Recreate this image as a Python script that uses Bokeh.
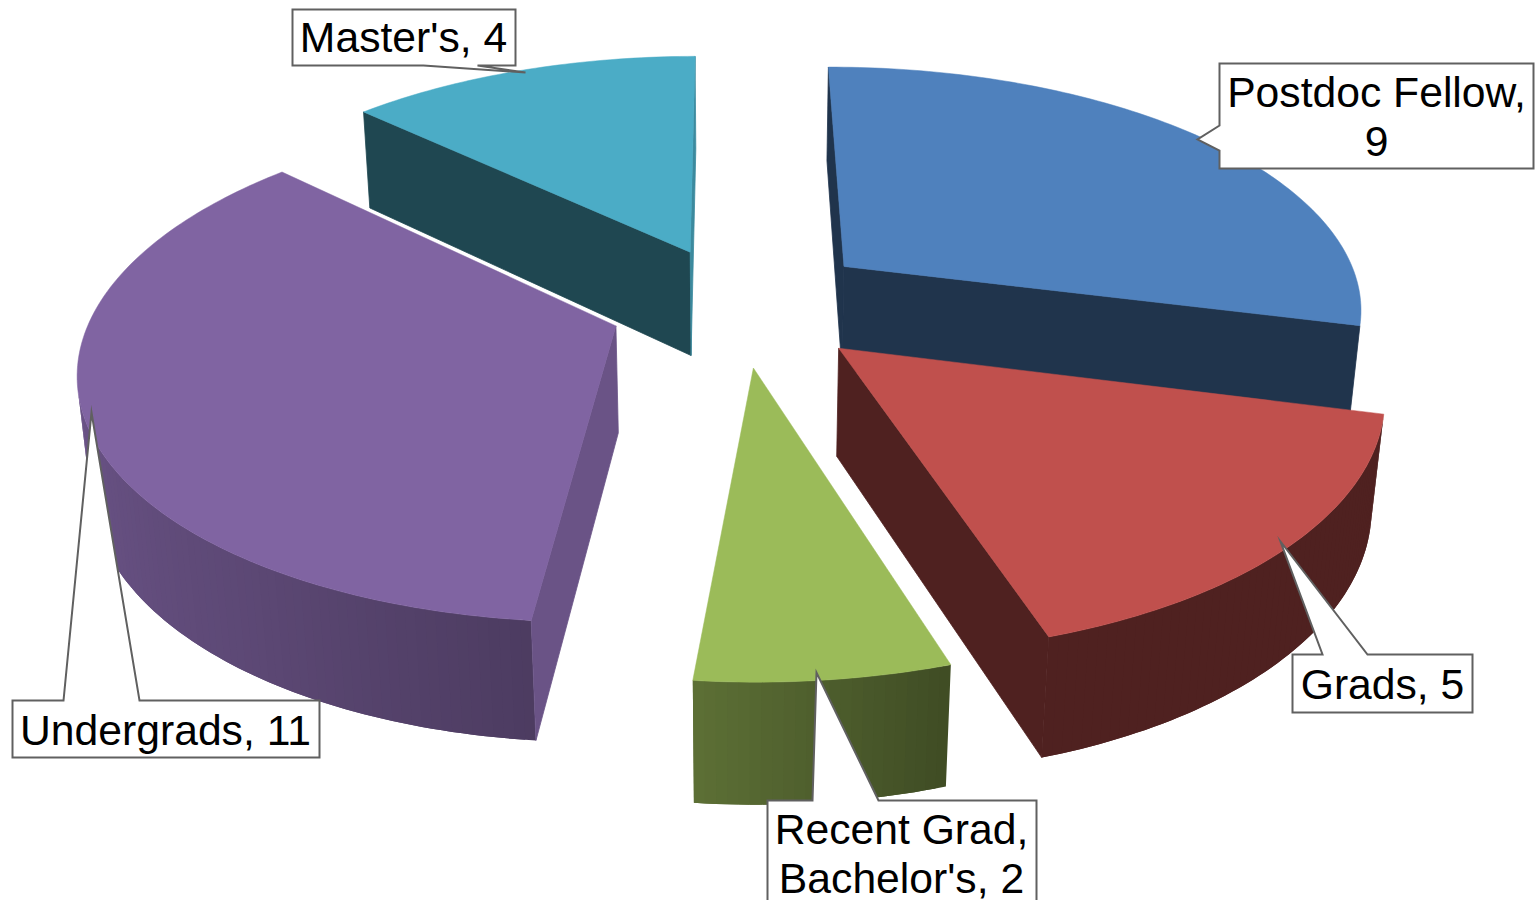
import numpy as np
from bokeh.plotting import figure
from bokeh.models import Range1d
from bokeh.core.properties import value
from bokeh.embed import file_html
from bokeh.resources import INLINE

# Respondents by career stage
categories = ["Postdoc Fellow", "Grads", "Recent Grad, Bachelor's", "Undergrads", "Master's"]
counts = [9, 5, 2, 11, 4]
label_lines = [["Postdoc Fellow,", "9"], ["Grads, 5"], ["Recent Grad,", "Bachelor's, 2"],
               ["Undergrads, 11"], ["Master's, 4"]]

# Slice styling
top_colors = ["#4F81BD", "#C0504D", "#9BBB59", "#8064A2", "#4BACC6"]
explode = [0.262, 0.2558, 0.2534, 0.2487, 0.244]
start_wall_shade = [0.40, 0.41, 0.41, 0.83, 0.41]
end_wall_shade = [0.40, 0.41, 0.41, 0.83, 0.80]
draw_order = [4, 0, 3, 1, 2]

# Curved wall brightness against the angle round the pie, in degrees
shade_angles = [0, 163, 186, 215, 250, 275, 300, 360]
shade_levels = [0.41, 0.41, 0.60, 0.72, 0.82, 0.92, 0.95, 0.95]

# Camera used to project the pie
X0, Y0, FOCAL, PERSP, PITCH, DEPTH, START = 738.48, 304.0, 521.0, 0.1784, 0.483, 0.234, -0.0035

# Label boxes: left, top, right, bottom, pointer base and tip
boxes = [(1219, 63, 1533, 168), (1292, 654, 1472, 712), (767, 800, 1036, 906),
         (12, 700, 319, 757), (292, 9, 515, 65)]
pointers = [[(1219, 125), (1197, 139), (1219, 150)],
            [(1322, 654), (1280, 541), (1367, 654)],
            [(812, 800), (816, 672), (878, 800)],
            [(63, 700), (91, 412), (139, 700)],
            [(423, 65), (525, 72), (477, 65)]]
text_x = [1376, 1382, 901, 165, 403]
text_y = [[91, 141], [683], [828, 877], [729], [36]]


def project(x, y, z):
    """Map pie coordinates (x right, y back, z up) onto the page."""
    c, s = np.cos(PITCH), np.sin(PITCH)
    w = 1 + PERSP * (y * c - z * s)
    return X0 + FOCAL * x / w, Y0 - FOCAL * (y * s + z * c) / w


def darken(color, k):
    r, g, b = (int(color[i:i + 2], 16) for i in (1, 3, 5))
    return "#%02X%02X%02X" % (round(r * k), round(g * k), round(b * k))


def faces_viewer(xs, ys):
    xs, ys = np.asarray(xs), -np.asarray(ys)
    return 0.5 * np.sum(xs * np.roll(ys, -1) - np.roll(xs, -1) * ys) > 0


p = figure(width=1540, height=900, output_backend="svg", toolbar_location=None,
           x_range=Range1d(0, 1540), y_range=Range1d(900, 0), min_border=0,
           outline_line_color=None, background_fill_color="white")
p.xaxis.visible = False
p.yaxis.visible = False
p.grid.visible = False

edges = np.cumsum([0] + counts) / sum(counts) * 2 * np.pi + START

for i in draw_order:
    a0, a1 = edges[i], edges[i + 1]
    mid = (a0 + a1) / 2
    cx, cy = explode[i] * np.sin(mid), explode[i] * np.cos(mid)
    angles = np.linspace(a0, a1, max(8, int(np.degrees(a1 - a0)) + 1))
    rim_x, rim_y = cx + np.sin(angles), cy + np.cos(angles)
    tx, ty = project(rim_x, rim_y, 0.0)
    bx, by = project(rim_x, rim_y, -DEPTH)
    atx, aty = project(cx, cy, 0.0)
    abx, aby = project(cx, cy, -DEPTH)

    # Curved outer wall: each strip runs on under the next one so no seams open up
    fx, fy, fc = [], [], []
    last = len(angles) - 1
    for j in range(last):
        qx = [tx[j], tx[j + 1], bx[j + 1], bx[j]]
        qy = [ty[j], ty[j + 1], by[j + 1], by[j]]
        if faces_viewer(qx, qy):
            deg = np.degrees((angles[j] + angles[j + 1]) / 2) % 360
            k = float(np.interp(deg, shade_angles, shade_levels))
            n = min(j + 2, last)
            fx.append([tx[j], tx[j + 1], tx[n], bx[n], bx[j + 1], bx[j]])
            fy.append([ty[j], ty[j + 1], ty[n], by[n], by[j + 1], by[j]])
            fc.append(darken(top_colors[i], k))
    if fx:
        p.patches(fx, fy, fill_color=fc, line_color=None)

    # Flat walls along the two radii
    quad = ([atx, tx[0], bx[0], abx], [aty, ty[0], by[0], aby], start_wall_shade[i])
    quad2 = ([tx[-1], atx, abx, bx[-1]], [ty[-1], aty, aby, by[-1]], end_wall_shade[i])
    for qx, qy, k in (quad, quad2):
        if faces_viewer(qx, qy):
            wall_color = darken(top_colors[i], k)
            p.patch(qx, qy, fill_color=wall_color, line_color=wall_color, line_width=0.8)

    # Top face
    p.patch(np.r_[atx, tx], np.r_[aty, ty], fill_color=top_colors[i], line_color=top_colors[i],
            line_width=0.5)

# Callout labels
for i, (l, t, r, b) in enumerate(boxes):
    base_a, tip, base_b = pointers[i]
    if base_a[0] == l:
        outline = [(l, t), (r, t), (r, b), (l, b), base_b, tip, base_a]
    elif base_a[1] == t:
        outline = [(l, t), base_a, tip, base_b, (r, t), (r, b), (l, b)]
    else:
        outline = [(l, t), (r, t), (r, b), base_b, tip, base_a, (l, b)]
    xs, ys = zip(*outline)
    p.patch(list(xs), list(ys), fill_color="white", line_color="#606060", line_width=2.0,
            line_join="miter")
    for line, y in zip(label_lines[i], text_y[i]):
        p.text([text_x[i]], [y], text=[line], text_color="black", text_align="center",
               text_baseline="alphabetic", text_font=value("Liberation Sans"),
               text_font_size="42.67px")

open("out.html", "w").write(file_html(p, INLINE))
